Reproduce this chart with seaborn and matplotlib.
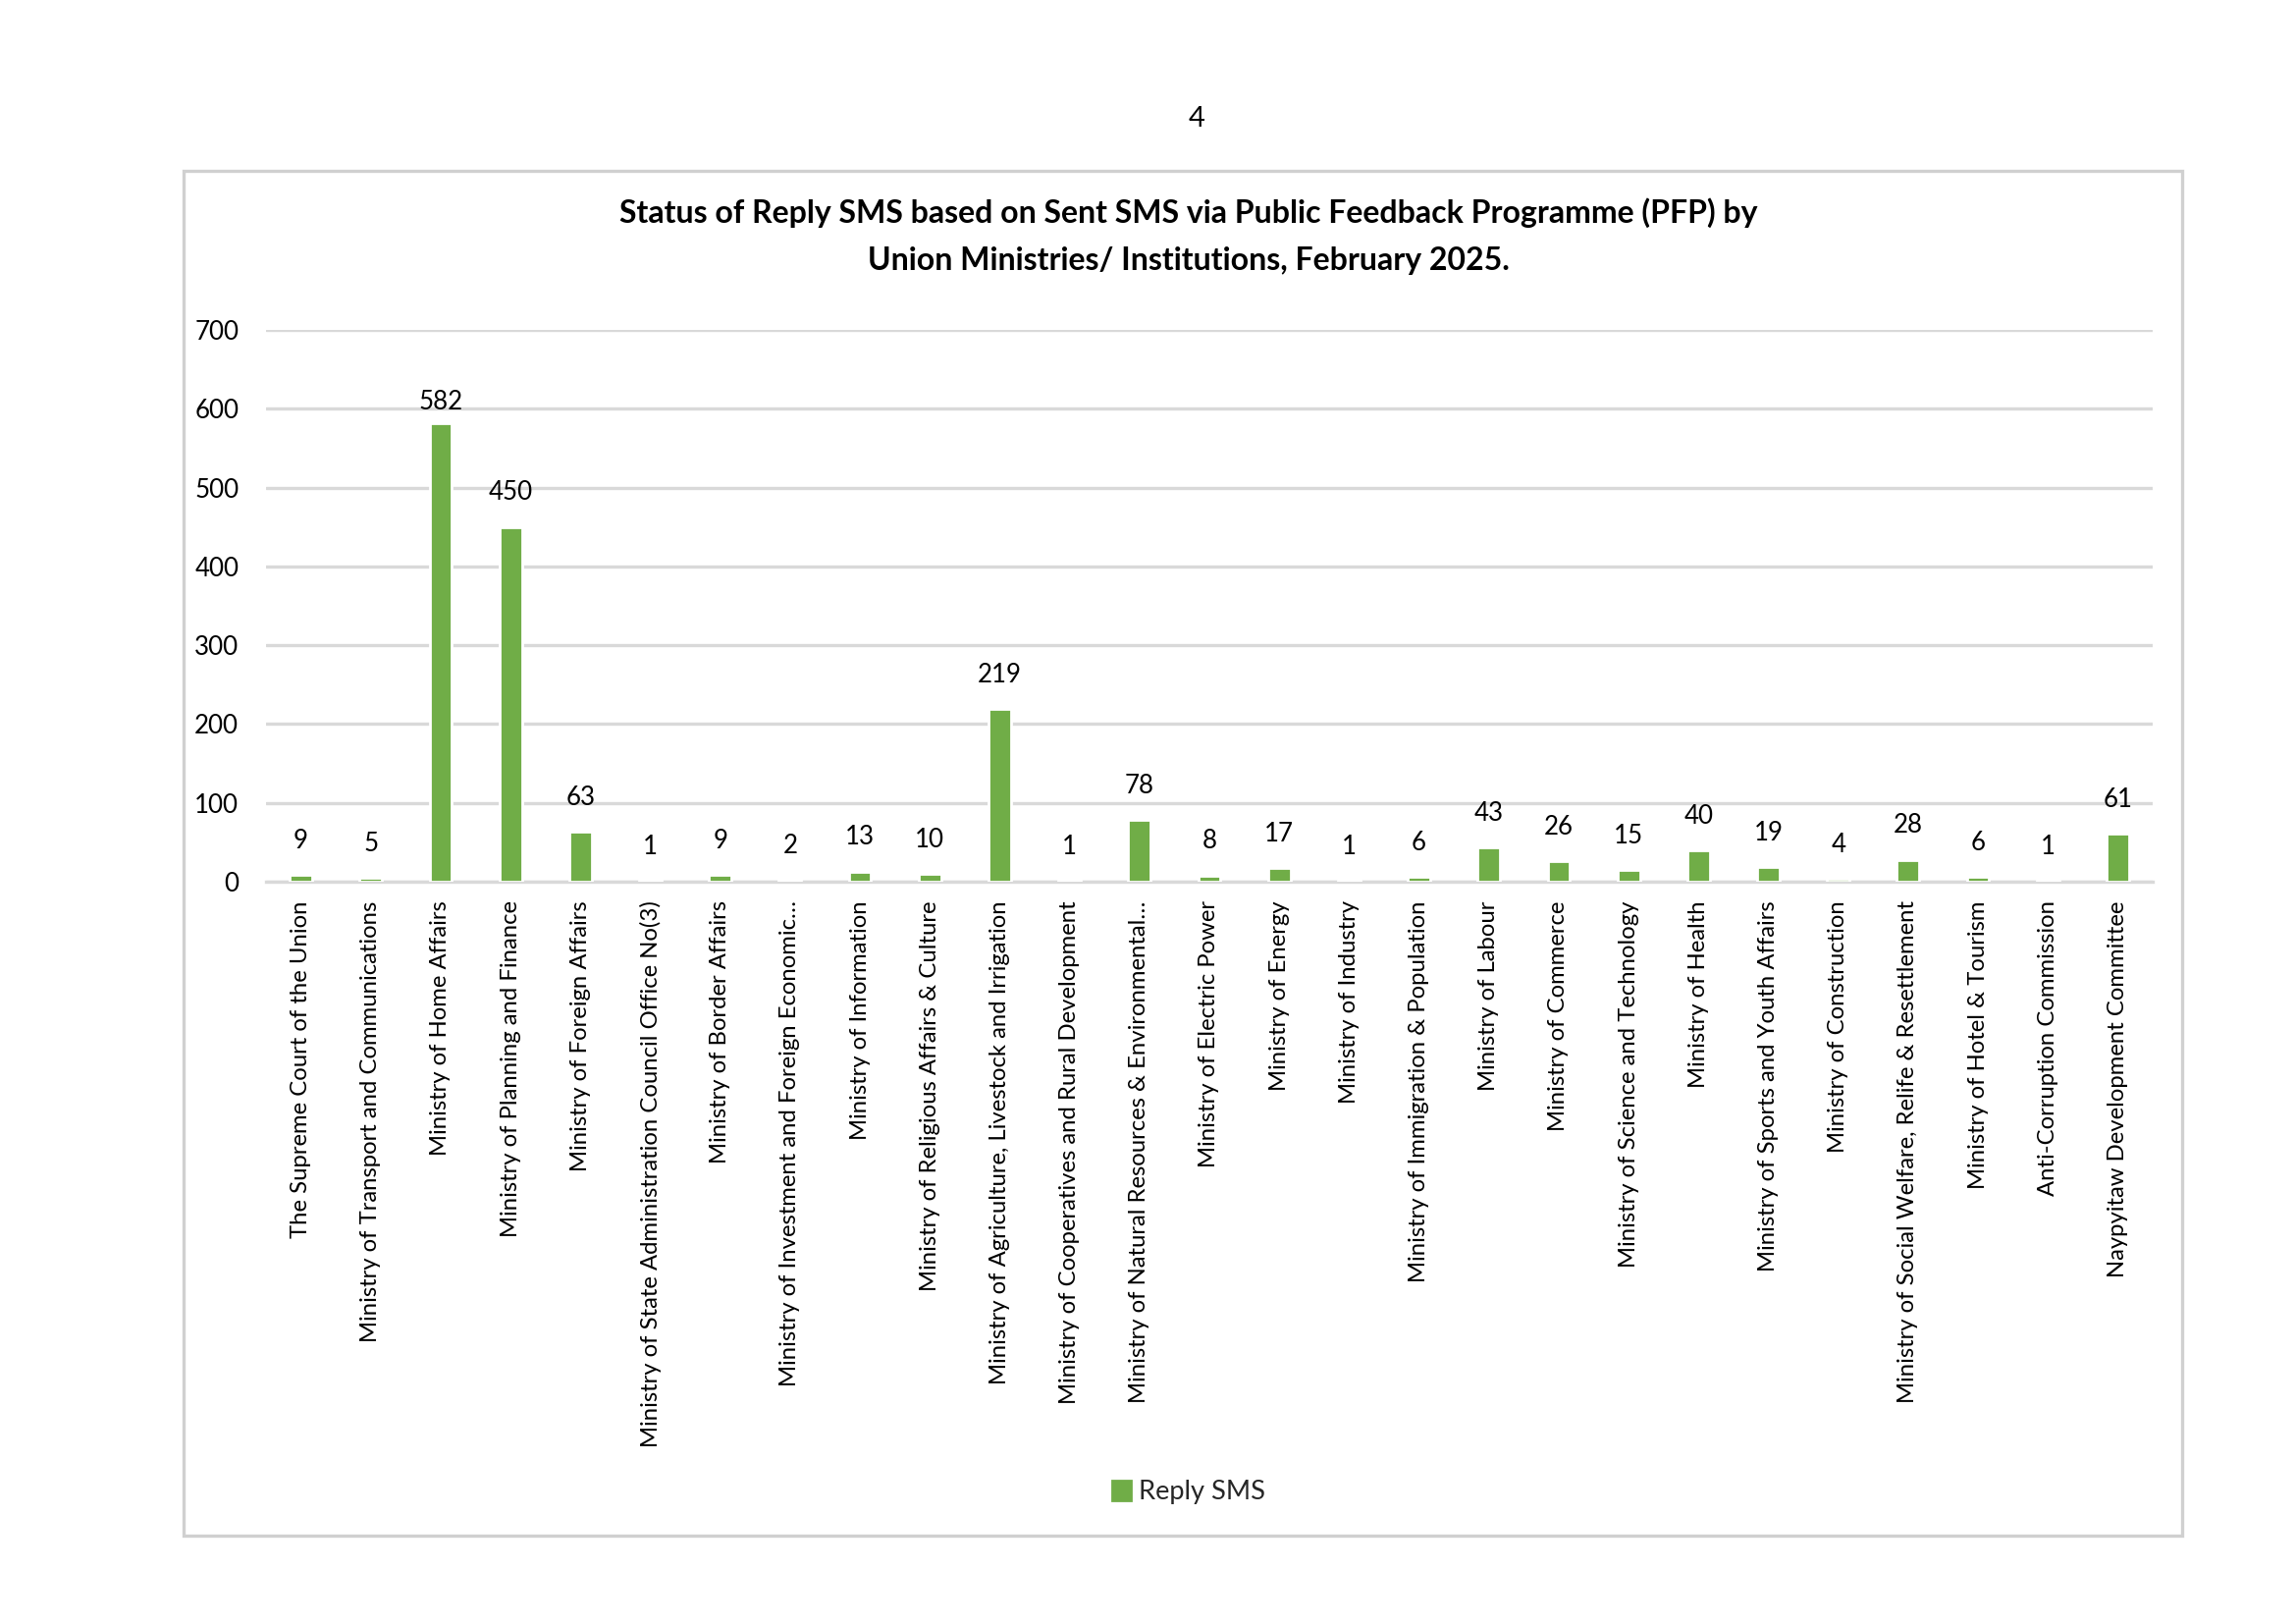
import matplotlib
matplotlib.use("Agg")
import matplotlib.pyplot as plt
import matplotlib.patches as mpatches
import seaborn as sns
import pandas as pd

categories = [
    "The Supreme Court of the Union",
    "Ministry of Transport and Communications",
    "Ministry of Home Affairs",
    "Ministry of Planning and Finance",
    "Ministry of Foreign Affairs",
    "Ministry of State Administration Council Office No(3)",
    "Ministry of Border Affairs",
    "Ministry of Investment and Foreign Economic…",
    "Ministry of Information",
    "Ministry of Religious Affairs & Culture",
    "Ministry of Agriculture, Livestock and Irrigation",
    "Ministry of Cooperatives and Rural Development",
    "Ministry of Natural Resources & Environmental…",
    "Ministry of Electric Power",
    "Ministry of Energy",
    "Ministry of Industry",
    "Ministry of Immigration & Population",
    "Ministry of Labour",
    "Ministry of Commerce",
    "Ministry of Science and Technology",
    "Ministry of Health",
    "Ministry of Sports and Youth Affairs",
    "Ministry of Construction",
    "Ministry of Social Welfare, Relife & Resettlement",
    "Ministry of Hotel & Tourism",
    "Anti-Corruption Commission",
    "Naypyitaw Development Committee",
]
reply_sms = [9, 5, 582, 450, 63, 1, 9, 2, 13, 10, 219, 1, 78, 8, 17, 1, 6,
             43, 26, 15, 40, 19, 4, 28, 6, 1, 61]
yticks = [0, 100, 200, 300, 400, 500, 600, 700]
title_text = ("Status of Reply SMS based on Sent SMS via Public Feedback Programme (PFP) by\n"
              "Union Ministries/ Institutions, February 2025.")
series_name = "Reply SMS"
page_number = "4"

GREEN = "#70AD47"
GRID = "#D9D9D9"
FONT = ["Lato", "DejaVu Sans"]

sns.set_theme(style="white")
plt.rcParams["font.family"] = FONT

df = pd.DataFrame({"Category": categories, "Reply": reply_sms})

W, H = 2339, 1654
fig = plt.figure(figsize=(W / 200, H / 200), dpi=200)
fig.patch.set_facecolor("white")

# outer chart border
border = mpatches.Rectangle((187 / W, 1 - 1564 / H),
                            (2223 - 187) / W, (1564 - 174) / H,
                            transform=fig.transFigure, fill=False,
                            edgecolor="#D0D0D0", linewidth=1.2)
fig.add_artist(border)

fig.text(1219 / W, 1 - 121 / H, page_number, ha="center", va="center",
         fontsize=10.5, color="black")

fig.text(1211 / W, 1 - 241 / H, title_text, ha="center", va="center",
         fontsize=11.5, fontweight="bold", color="black", linespacing=1.8)

ax = fig.add_axes([271 / W, 1 - 898 / H, (2193 - 271) / W, (898 - 336) / H])
sns.barplot(data=df, x="Category", y="Reply", color=GREEN, width=0.32,
            saturation=1, ax=ax, zorder=3)
ax.set_ylim(0, 700)
ax.set_xlim(-0.5, len(categories) - 0.5)
ax.set_yticks(yticks)
ax.set_yticklabels([str(t) for t in yticks], fontsize=9.3)
ax.yaxis.grid(True, color=GRID, linewidth=1.2, zorder=0)
ax.xaxis.grid(False)
for s in ["top", "right", "left"]:
    ax.spines[s].set_visible(False)
ax.spines["bottom"].set_color(GRID)
ax.spines["bottom"].set_linewidth(1.2)
ax.tick_params(axis="y", length=0, pad=10, labelcolor="black")
ax.tick_params(axis="x", length=0, pad=7, labelcolor="black")
ax.set_xticks(range(len(categories)))
ax.set_xticklabels(categories, rotation=90, fontsize=8.6, va="top", ha="center")
ax.set_xlabel("")
ax.set_ylabel("")

top_value = max(reply_sms)
for c in ax.containers:
    for bar, v in zip(c, reply_sms):
        pad = 3 if v == top_value else 8
        ax.annotate(str(v), xy=(bar.get_x() + bar.get_width() / 2, bar.get_height()),
                    xytext=(0, pad), textcoords="offset points",
                    ha="center", va="bottom", fontsize=9.3, color="black")

handle = mpatches.Patch(color=GREEN, label=series_name)
fig.legend(handles=[handle], loc="center", bbox_to_anchor=(1211 / W, 1 - 1520 / H),
           frameon=False, fontsize=9.8, handlelength=0.7, handleheight=0.7,
           handletextpad=0.3)

fig.savefig("out.png", dpi=200, facecolor="white")
